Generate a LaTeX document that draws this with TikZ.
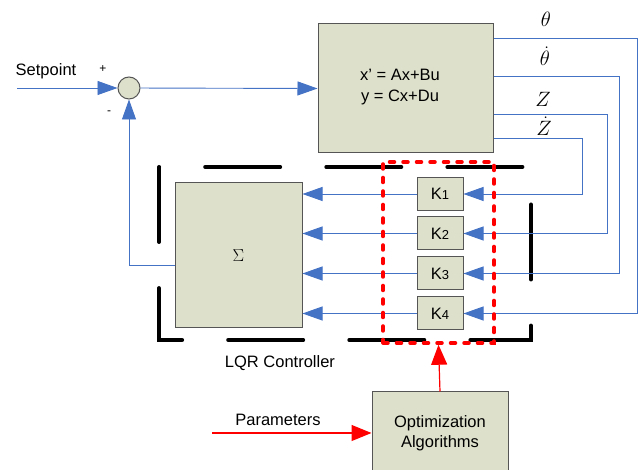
\documentclass[tikz,border=0pt]{standalone}
\usepackage{fontspec}
\setmainfont{Liberation Sans}
\usetikzlibrary{arrows.meta}
\definecolor{boxfill}{RGB}{221,224,203}
\definecolor{boxline}{RGB}{85,85,85}
\definecolor{sigblue}{RGB}{68,114,196}
\newcommand\kdig[1]{{\fontsize{13}{13}\selectfont #1}}
\tikzset{
  blk/.style={draw=boxline,fill=boxfill,line width=1pt,inner sep=0pt,align=center},
  sig/.style={draw=sigblue,line width=.9pt},
  sigarr/.style={sig,-{Triangle[length=20pt,width=14pt,fill=sigblue]}},
  redarr/.style={draw=red,line width=1.2pt,-{Triangle[length=20pt,width=16pt]}},
  lbl/.style={font=\fontsize{20}{20}\selectfont},
  pm/.style={font=\fontsize{12}{12}\selectfont}
}
\begin{document}
\begin{tikzpicture}[x=1pt,y=-1pt,every node/.style={font=\fontsize{16.5}{20.5}\selectfont,inner sep=0pt}]
  \path[use as bounding box] (0,0) rectangle (641,470);
  % LQR controller frame
  \draw[line width=4pt,line cap=round,dash pattern=on 75pt off 46.1pt]
    (159,167) -- (159,340) -- (531,340) -- (531,167) -- cycle;
  \node[anchor=base] (lqr) at (280,368) {LQR Controller};
  % plant and summing junction
  \node[circle,draw=boxline,fill=boxfill,line width=1pt,minimum size=22pt] (sum) at (129,88) {};
  \node[blk,minimum width=175pt,minimum height=129pt] (plant) at (405.5,88.5) {};
  \node[align=center] (eq) at (400,87) {x' = Ax+Bu\\y = Cx+Du};
  \node[anchor=base] (setp) at (46,76) {Setpoint};
  \node[pm] (plus) at (103,69) {+};
  \node[pm] (minus) at (109,113) {-};
  \coordinate (sp) at (17,88);
  \draw[sigarr] (sp) -- (sum);
  \draw[sigarr] (sum) -- (plant.west);
  % gains and sum block
  \node[blk,minimum width=127pt,minimum height=145pt] (sigma) at (238.5,255.5) {\fontsize{19}{19}\selectfont$\Sigma$};
  \node[blk,minimum width=46pt,minimum height=33pt] (k1) at (440,194) {K\kdig{1}};
  \node[blk,minimum width=46pt,minimum height=33pt] (k2) at (440,233.5) {K\kdig{2}};
  \node[blk,minimum width=46pt,minimum height=33pt] (k3) at (440,273.5) {K\kdig{3}};
  \node[blk,minimum width=46pt,minimum height=33pt] (k4) at (440,313.5) {K\kdig{4}};
  % states fed back
  \coordinate (o1) at (637,38);
  \coordinate (o2) at (619,76);
  \coordinate (o3) at (607,114);
  \coordinate (o4) at (582,138);
  \draw[sigarr] (plant.east |- o1) -- (o1) |- (k4.east);
  \draw[sigarr] (plant.east |- o2) -- (o2) |- (k3.east);
  \draw[sigarr] (plant.east |- o3) -- (o3) |- (k2.east);
  \draw[sigarr] (plant.east |- o4) -- (o4) |- (k1.east);
  \node[lbl] (th) at (546,19) {$\theta$};
  \node[lbl] (thd) at (545,56) {$\dot{\theta}$};
  \node[lbl] (z) at (543,99) {$Z$};
  \node[lbl] (zd) at (544,126) {$\dot{Z}$};
  \draw[sigarr] (k1.west) -- (k1.west -| sigma.east);
  \draw[sigarr] (k2.west) -- (k2.west -| sigma.east);
  \draw[sigarr] (k3.west) -- (k3.west -| sigma.east);
  \draw[sigarr] (k4.west) -- (k4.west -| sigma.east);
  \coordinate (fb) at (129,265);
  \draw[sigarr] (sigma.west |- fb) -- (fb) -- (sum.south);
  % optimization of the gains
  \node[draw=red,line width=3.5pt,line cap=round,dash pattern=on 5pt off 8.5pt,
    minimum width=111pt,minimum height=181pt] (kgrp) at (438.5,252.5) {};
  \node[blk,minimum width=136pt,minimum height=82pt] (opt) at (440,433) {Optimization\\Algorithms};
  \node[anchor=base] (parl) at (278,426) {Parameters};
  \coordinate (par) at (212,433);
  \draw[redarr] (par) -- (opt.west);
  \draw[redarr] (opt.north) -- (kgrp.south);
\end{tikzpicture}
\end{document}
